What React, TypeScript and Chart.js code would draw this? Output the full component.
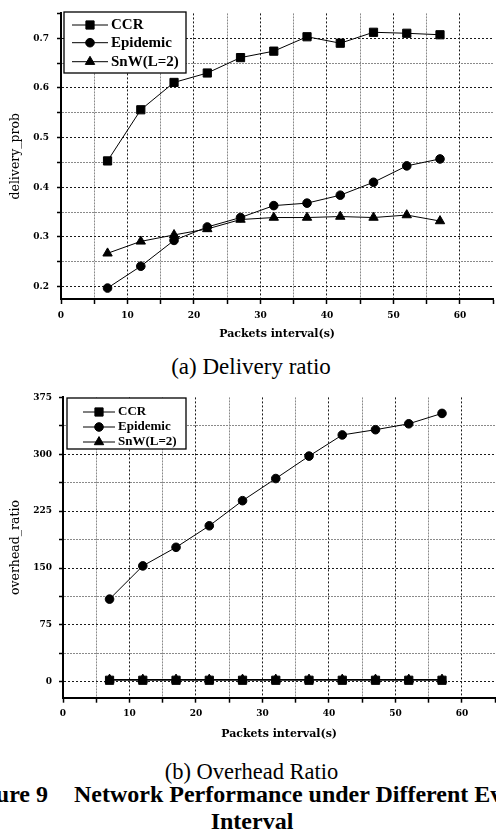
import React, { useEffect, useRef } from "react";
import { Chart, registerables } from "chart.js";
import { drawPoint } from "chart.js/helpers";

Chart.register(...registerables);

// ---------------- data ----------------
const intervals = [7, 12, 17, 22, 27, 32, 37, 42, 47, 52, 57];
const seriesNames = ["CCR", "Epidemic", "SnW(L=2)"];

const deliveryCCR = [0.453, 0.556, 0.611, 0.63, 0.661, 0.674, 0.703, 0.69, 0.712, 0.71, 0.707];
const deliveryEpidemic = [0.197, 0.241, 0.293, 0.32, 0.339, 0.363, 0.368, 0.384, 0.41, 0.443, 0.457];
const deliverySnW = [0.267, 0.291, 0.304, 0.316, 0.335, 0.339, 0.339, 0.341, 0.339, 0.344, 0.332];

const overheadCCR = [2.0, 2.0, 2.0, 2.0, 2.0, 2.0, 2.0, 2.0, 2.0, 2.0, 2.0];
const overheadEpidemic = [109, 152.8, 177.3, 205.7, 238.8, 268, 297.6, 325.5, 332.4, 340.2, 353.9];
const overheadSnW = [3.0, 3.0, 3.0, 3.0, 3.0, 3.0, 3.0, 3.0, 3.0, 3.0, 3.0];

const xTickLabels = [0, 10, 20, 30, 40, 50, 60];
const deliveryTickLabels = [0.2, 0.3, 0.4, 0.5, 0.6, 0.7];
const overheadTickLabels = [0, 75, 150, 225, 300, 375];

// ---------------- styling helpers ----------------
const TICK_FONT = { family: "'DejaVu Serif', serif", weight: "bold" as const, size: 9 };
const XTITLE_FONT = { family: "'DejaVu Serif', serif", weight: "bold" as const, size: 11 };
const YTITLE_FONT = { family: "'DejaVu Serif', serif", weight: "normal" as const, size: 12.5 };
const pointStyles = ["rect", "circle", "triangle"];
const pointRadii = [5.8, 4.3, 5.4];

const near = (a: number, b: number) => Math.abs(a - b) < 1e-7;
const isLabeled = (list: number[], v: number) => list.some((t) => near(t, v));

function gridColor(list: number[]) {
  return (c: any) => {
    if (!c.tick) return "#000";
    const v = c.tick.value;
    const s = c.scale;
    if (near(v, s.min) || near(v, s.max)) return "rgba(0,0,0,0)";
    return isLabeled(list, v) ? "#1a1a1a" : "#8a8a8a";
  };
}
function gridDash(list: number[]) {
  return (c: any) => {
    if (!c.tick) return [];
    return isLabeled(list, c.tick.value) ? [2, 2] : [2, 1];
  };
}
function tickColor() {
  return (c: any) => {
    if (!c.tick) return "#000";
    if (near(c.tick.value, c.scale.min) && c.scale.axis === "y") return "rgba(0,0,0,0)";
    return "#000";
  };
}

const boxLegend = {
  id: "boxLegend",
  afterDraw(chart: any, _args: any, opts: any) {
    if (!opts || !opts.box) return;
    const ctx = chart.ctx;
    const [l, t, r, b] = opts.box;
    ctx.save();
    ctx.fillStyle = "#fff";
    ctx.fillRect(l, t, r - l, b - t);
    ctx.strokeStyle = "#000";
    ctx.lineWidth = 1.3;
    ctx.strokeRect(l, t, r - l, b - t);
    chart.data.datasets.forEach((ds: any, i: number) => {
      const y = opts.rows[i];
      ctx.strokeStyle = "#000";
      ctx.lineWidth = 1;
      ctx.beginPath();
      ctx.moveTo(opts.lineX[0], y);
      ctx.lineTo(opts.lineX[1], y);
      ctx.stroke();
      ctx.fillStyle = "#000";
      drawPoint(
        ctx,
        { pointStyle: ds.pointStyle, radius: ds.pointRadius, rotation: 0, borderWidth: 1 } as any,
        (opts.lineX[0] + opts.lineX[1]) / 2,
        y
      );
      ctx.fillStyle = "#000";
      ctx.font = opts.font;
      ctx.textBaseline = "middle";
      ctx.textAlign = "left";
      ctx.fillText(ds.label, opts.textX, y);
    });
    ctx.restore();
  },
};

function makeDatasets(series: number[][]) {
  return series.map((vals, i) => ({
    label: seriesNames[i],
    data: intervals.map((x, k) => ({ x, y: vals[k] })),
    borderColor: "#000",
    borderWidth: 1,
    backgroundColor: "#000",
    pointStyle: pointStyles[i],
    pointRadius: pointRadii[i],
    pointBackgroundColor: "#000",
    pointBorderColor: "#000",
    pointBorderWidth: 1,
    tension: 0,
    fill: false,
  }));
}

type Cfg = {
  series: number[][];
  yMin: number;
  yMax: number;
  yStep: number;
  yLabels: number[];
  yDecimals: number;
  yTitle: string;
  yWidth: number;
  yTickPad: number;
  xHeight: number;
  padding: any;
  legend: any;
};

function makeConfig(p: Cfg): any {
  return {
    type: "line",
    data: { datasets: makeDatasets(p.series) },
    plugins: [boxLegend],
    options: {
      responsive: false,
      animation: false,
      events: [],
      layout: { padding: p.padding },
      plugins: {
        legend: { display: false },
        tooltip: { enabled: false },
        boxLegend: p.legend,
      },
      scales: {
        x: {
          type: "linear",
          min: 0,
          max: 65,
          ticks: {
            stepSize: 5,
            autoSkip: false,
            maxRotation: 0,
            padding: 6,
            color: "#000",
            font: TICK_FONT,
            callback: (v: number) => (isLabeled(xTickLabels, v) ? String(Math.round(v)) : ""),
          },
          grid: {
            color: gridColor(xTickLabels),
            lineWidth: 1,
            drawTicks: true,
            tickLength: 5,
            tickColor: tickColor(),
            tickWidth: 1.5,
          },
          border: { display: true, color: "#000", width: 2, dash: gridDash(xTickLabels) },
          title: {
            display: true,
            text: "Packets interval(s)",
            color: "#000",
            font: XTITLE_FONT,
            padding: { top: 0, bottom: 4.4 },
          },
          afterFit: (s: any) => {
            s.height = p.xHeight;
          },
        },
        y: {
          type: "linear",
          min: p.yMin,
          max: p.yMax,
          ticks: {
            stepSize: p.yStep,
            autoSkip: false,
            padding: p.yTickPad,
            color: "#000",
            font: TICK_FONT,
            callback: (v: number) => (isLabeled(p.yLabels, v) ? v.toFixed(p.yDecimals) : ""),
          },
          grid: {
            color: gridColor(p.yLabels),
            lineWidth: 1,
            drawTicks: true,
            tickLength: 4,
            tickColor: tickColor(),
            tickWidth: 1.5,
          },
          border: { display: true, color: "#000", width: 2, dash: gridDash(p.yLabels) },
          title: {
            display: true,
            text: p.yTitle,
            color: "#000",
            font: YTITLE_FONT,
            padding: { top: 8.5, bottom: 0 },
          },
          afterFit: (s: any) => {
            s.width = p.yWidth;
          },
        },
      },
    },
  };
}

function ChartCanvas(props: { cfg: Cfg; width: number; height: number; top: number }) {
  const ref = useRef<HTMLCanvasElement | null>(null);
  useEffect(() => {
    if (!ref.current) return;
    const chart = new Chart(ref.current, makeConfig(props.cfg));
    return () => chart.destroy();
  }, []);
  return (
    <canvas
      ref={ref}
      width={props.width}
      height={props.height}
      style={{ position: "absolute", left: 0, top: props.top, width: props.width, height: props.height }}
    />
  );
}

const captionBase: React.CSSProperties = {
  position: "absolute",
  fontFamily: "'Liberation Serif', 'Times New Roman', serif",
  color: "#000",
  whiteSpace: "pre",
  margin: 0,
};

export default function App() {
  const topCfg: Cfg = {
    series: [deliveryCCR, deliveryEpidemic, deliverySnW],
    yMin: 0.175,
    yMax: 0.75,
    yStep: 0.05,
    yLabels: deliveryTickLabels,
    yDecimals: 1,
    yTitle: "delivery_prob",
    yWidth: 61,
    yTickPad: 8,
    xHeight: 46,
    padding: { top: 5, right: 3.5, left: 0, bottom: 0 },
    legend: {
      box: [64, 12, 186, 73],
      rows: [25, 42.7, 61.7],
      lineX: [72, 108],
      textX: 111,
      font: "bold 15px 'Liberation Serif', serif",
    },
  };
  const bottomCfg: Cfg = {
    series: [overheadCCR, overheadEpidemic, overheadSnW],
    yMin: -21,
    yMax: 375,
    yStep: 37.5,
    yLabels: overheadTickLabels,
    yDecimals: 0,
    yTitle: "overhead_ratio",
    yWidth: 63,
    yTickPad: 7,
    xHeight: 47.3,
    padding: { top: 5.7, right: 2.7, left: 0, bottom: 0 },
    legend: {
      box: [67, 13, 186, 64],
      rows: [27, 42, 57],
      lineX: [83, 115],
      textX: 118,
      font: "bold 13px 'Liberation Serif', serif",
    },
  };

  return (
    <div
      style={{
        position: "absolute",
        left: 0,
        top: 0,
        width: 496,
        height: 837,
        overflow: "hidden",
        background: "#fff",
      }}
    >
      <ChartCanvas cfg={topCfg} width={500} height={345} top={0} />
      <ChartCanvas cfg={bottomCfg} width={502} height={360} top={385} />
      <div style={{ ...captionBase, left: 0, width: 502, textAlign: "center", top: 355, fontSize: 23, lineHeight: "23px" }}>
        (a) Delivery ratio
      </div>
      <div style={{ ...captionBase, left: 0, width: 503, textAlign: "center", top: 760, fontSize: 22.5, lineHeight: "23px" }}>
        (b) Overhead Ratio
      </div>
      <div
        style={{
          ...captionBase,
          right: 496 - 48,
          top: 783,
          fontSize: 24,
          lineHeight: "23px",
          fontWeight: "bold",
          textAlign: "right",
        }}
      >
        Figure 9
      </div>
      <div style={{ ...captionBase, left: 74, top: 783, fontSize: 24, lineHeight: "23px", fontWeight: "bold" }}>
        Network Performance under Different Event
      </div>
      <div
        style={{
          ...captionBase,
          left: 0,
          width: 504,
          textAlign: "center",
          top: 810,
          fontSize: 24,
          lineHeight: "23px",
          fontWeight: "bold",
        }}
      >
        Interval
      </div>
    </div>
  );
}
